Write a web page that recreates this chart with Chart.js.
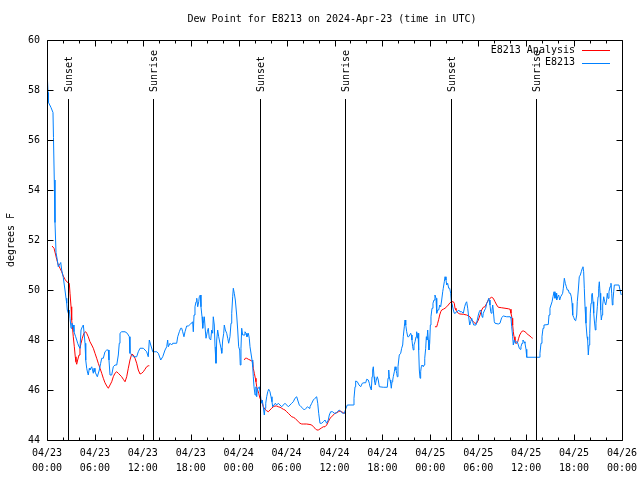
<!DOCTYPE html>
<html><head><meta charset="utf-8">
<script src="https://cdn.jsdelivr.net/npm/chart.js@4.4.1/dist/chart.umd.min.js"></script>
<style>html,body{margin:0;padding:0;background:#fff}canvas{display:block}</style>
</head><body>
<canvas id="c" width="640" height="480"></canvas>
<script>
const chartTitle = "Dew Point for E8213 on 2024-Apr-23 (time in UTC)";
const yAxisTitle = "degrees F";
const xTickLabels = ["04/23 00:00","04/23 06:00","04/23 12:00","04/23 18:00","04/24 00:00","04/24 06:00","04/24 12:00","04/24 18:00","04/25 00:00","04/25 06:00","04/25 12:00","04/25 18:00","04/26 00:00"];
const seriesNames = ["E8213 Analysis","E8213"];
const sunHours = [2.67,13.31,26.71,37.35,50.63,61.27];
const sunLabels = ["Sunset","Sunrise","Sunset","Sunrise","Sunset","Sunrise"];

// E8213 observations: hours since 04/23 00:00 UTC and dew point (F)
const obsHours = [0.06,0.13,0.19,0.50,0.75,0.81,0.91,1.00,1.13,1.29,
1.41,1.54,1.72,1.84,2.04,2.25,2.38,2.47,2.54,2.67,
2.79,2.88,3.01,3.13,3.22,3.29,3.38,3.59,3.72,3.84,
4.01,4.13,4.26,4.42,4.55,4.67,4.76,4.85,4.97,5.10,
5.17,5.30,5.38,5.60,5.80,5.89,6.01,6.30,6.55,6.72,
6.85,7.05,7.26,7.48,7.68,7.76,7.89,8.10,8.30,8.51,
8.73,8.93,9.05,9.14,9.35,9.77,10.05,10.31,10.39,10.61,
10.81,11.23,11.43,11.65,12.06,12.27,12.48,12.68,12.81,12.99,
13.24,13.74,13.94,14.24,14.49,14.78,14.99,15.11,15.19,15.40,
15.61,15.74,16.24,16.37,16.57,16.74,16.87,16.99,17.15,17.28,
17.49,17.69,17.99,18.24,18.32,18.41,18.53,18.66,18.75,18.87,
19.00,19.07,19.20,19.28,19.41,19.50,19.57,19.70,19.82,19.91,
20.07,20.20,20.32,20.50,20.62,20.75,20.82,20.95,21.04,21.16,
21.25,21.37,21.50,21.66,21.79,21.88,22.00,22.13,22.20,22.33,
22.50,22.63,22.75,22.91,23.04,23.13,23.25,23.33,23.45,23.58,
23.75,23.88,24.00,
24.13,24.20,24.29,24.38,24.50,24.67,24.79,24.92,25.04,25.21,
25.33,25.42,25.54,25.67,25.76,25.83,25.92,26.05,26.17,26.26,
26.33,26.46,26.58,26.71,26.83,26.96,27.08,27.21,27.30,27.39,
27.51,27.64,27.76,27.92,28.05,28.17,28.26,28.42,28.59,28.76,
28.96,29.18,29.39,29.59,29.80,30.01,30.22,30.43,30.64,30.84,
31.05,31.27,31.39,31.59,31.81,32.02,32.22,32.43,32.64,32.81,
32.93,33.15,33.35,33.56,33.77,33.90,34.02,34.18,34.40,34.60,
34.81,35.02,35.22,35.35,35.52,35.77,35.97,36.19,36.35,36.60,
36.81,37.03,37.23,37.44,37.60,38.35,38.44,38.57,38.65,38.86,
39.07,39.28,39.48,39.69,39.91,40.03,40.23,40.36,40.45,40.53,
40.61,40.70,40.78,40.86,40.95,41.03,41.11,41.23,41.36,41.48,
41.61,42.11,42.61,42.70,42.79,42.86,42.95,43.04,43.11,43.20,
43.29,43.36,43.49,43.58,43.70,43.79,43.86,43.95,44.04,44.11,
44.29,44.41,44.54,44.61,44.74,44.83,44.92,45.04,45.17,45.29,
45.42,45.54,45.62,45.70,45.79,45.87,45.95,46.08,46.21,46.29,
46.37,46.46,46.54,46.62,46.71,46.79,46.87,46.96,47.12,47.21,
47.30,47.42,47.50,47.58,47.67,47.75,47.83,47.92,48.00,48.08,
48.21,48.33,48.46,48.58,48.71,48.80,48.92,49.05,49.17,49.30,
49.42,49.55,49.62,49.75,49.84,49.96,50.05,50.17,50.30,50.42,
50.55,50.63,50.75,50.88,51.00,51.13,51.25,51.38,51.55,51.71,
51.93,52.13,52.30,52.43,52.55,52.68,52.80,52.93,53.05,53.18,
53.30,53.43,53.72,53.88,54.01,54.13,54.26,54.38,54.47,54.56,
54.63,54.81,54.93,55.06,55.18,55.31,55.38,55.47,55.56,55.63,
55.72,55.81,55.88,56.01,56.10,56.51,56.72,56.94,57.14,57.56,
57.98,58.10,58.19,58.31,58.39,58.51,58.64,58.76,58.89,59.02,
59.14,59.23,59.35,59.48,59.60,59.73,59.85,59.98,60.07,61.64,
61.73,61.86,61.98,62.11,62.23,62.77,62.86,62.98,63.11,63.24,
63.36,63.49,63.61,63.74,63.82,63.95,64.07,64.20,64.32,64.45,
64.57,64.65,64.78,64.90,65.03,65.15,65.28,65.40,65.53,65.65,
65.74,65.83,65.95,66.08,66.20,66.33,66.40,66.53,66.65,66.78,
66.90,67.03,67.11,67.20,67.28,67.37,67.49,67.62,67.70,67.78,
67.87,67.96,68.03,68.12,68.21,68.28,68.37,68.46,68.53,68.66,
68.74,68.83,68.91,69.00,69.08,69.16,69.25,69.33,69.41,69.50,
69.58,69.71,69.83,69.96,70.08,70.16,70.25,70.37,70.50,70.62,
70.71,70.79,70.87,70.96,71.04,71.62,71.75,71.91];
const obsDew = [58.4,57.9,57.5,57.3,57.1,56.1,54.4,52.7,51.5,51.2,
50.93,51.0,51.1,50.8,50.5,50.0,49.67,49.47,49.2,49.07,
49.2,48.87,48.47,48.67,48.53,48.6,48.33,48.13,48.0,47.87,
47.73,47.67,48.4,48.53,48.6,48.2,47.87,47.2,46.87,46.67,
46.6,46.87,46.8,46.93,46.67,46.87,46.73,46.53,46.8,47.07,
47.27,47.27,47.53,47.6,47.6,47.2,46.6,46.6,46.93,47.0,
47.0,47.4,47.87,48.27,48.33,48.33,48.27,48.13,47.47,47.4,
47.33,47.33,47.53,47.67,47.67,47.6,47.53,47.33,48.0,47.8,
47.53,47.53,47.47,47.2,47.33,47.6,47.73,48.0,47.73,47.87,
47.8,47.87,47.87,48.13,48.33,48.47,48.47,48.33,48.13,48.33,
48.56,48.56,48.64,48.73,48.33,49.0,49.33,49.53,49.67,49.33,
49.53,49.73,49.8,49.33,48.93,48.47,48.67,48.93,48.4,48.07,
48.33,48.47,48.07,48.0,48.4,48.27,48.93,48.6,47.73,47.07,
48.0,48.4,48.13,47.87,47.67,47.47,48.0,48.27,48.6,48.4,
48.27,48.07,47.87,48.13,48.67,49.07,49.73,50.07,49.87,49.6,
49.0,48.4,47.73,
47.6,47.0,47.67,48.47,48.2,48.2,48.33,48.27,48.13,48.27,
48.07,47.73,47.73,47.2,46.93,46.53,46.13,45.8,46.13,45.73,
46.0,46.07,46.13,45.87,45.47,45.6,45.33,45.0,45.27,45.47,
45.73,45.93,46.03,45.93,45.73,45.53,45.33,45.4,45.47,45.4,
45.47,45.4,45.33,45.4,45.47,45.4,45.33,45.4,45.47,45.53,
45.67,45.73,45.6,45.4,45.33,45.27,45.2,45.27,45.33,45.27,
45.33,45.47,45.6,45.67,45.73,45.47,45.07,44.67,44.67,44.73,
44.8,44.67,44.8,45.0,45.13,45.13,45.07,45.07,45.13,45.2,
45.13,45.07,45.07,45.27,45.4,45.4,45.67,46.13,46.36,46.33,
46.2,46.13,46.27,46.29,46.29,46.43,46.4,46.27,46.13,46.07,
46.0,46.53,46.8,46.93,46.53,46.33,46.2,46.4,46.53,46.4,
46.13,46.11,46.11,46.47,46.8,46.53,46.4,46.27,46.07,46.33,
46.4,46.53,46.73,46.93,46.8,46.67,46.53,46.93,47.2,47.4,
47.47,47.67,47.8,48.13,48.53,48.8,48.6,48.33,48.13,48.13,
48.2,48.27,48.2,48.0,47.73,47.6,47.8,47.93,48.13,48.33,
48.07,48.27,47.6,46.8,46.47,46.73,46.93,47.0,46.93,47.0,
47.27,47.67,48.13,48.0,48.4,48.0,47.6,47.87,48.6,48.93,
49.27,49.47,49.6,49.8,49.67,49.07,49.2,49.2,49.4,49.33,
49.6,49.93,50.07,50.33,50.53,50.4,50.2,50.27,50.07,50.07,
49.87,49.53,49.4,49.2,49.07,49.07,49.13,49.13,49.2,49.13,
49.13,49.07,49.33,49.47,49.53,49.27,48.93,48.6,48.73,48.87,
48.73,48.6,48.6,48.8,49.0,49.13,49.2,49.13,48.93,48.91,
49.07,49.2,49.27,49.47,49.53,49.67,49.6,49.4,49.13,49.07,
49.2,49.4,49.2,48.73,48.67,48.64,48.67,48.9,48.96,48.93,
48.93,48.87,48.53,48.13,47.8,48.0,47.87,47.93,47.93,47.8,
47.67,47.63,47.73,47.87,48.0,47.93,47.87,47.63,47.31,47.31,
47.47,47.87,48.13,48.47,48.6,48.62,49.0,49.27,49.4,49.53,
49.73,49.93,49.67,49.87,49.6,49.73,49.8,49.6,49.73,49.8,
49.87,50.07,50.47,50.27,50.13,50.0,50.0,49.87,49.87,49.73,
49.47,49.0,48.91,48.8,48.77,49.0,49.53,50.0,50.53,50.6,
50.73,50.87,50.93,50.73,50.07,49.33,48.67,48.13,48.0,47.4,
47.8,48.27,49.07,49.47,49.8,49.87,49.53,49.07,48.8,48.4,
48.67,49.0,49.33,49.73,50.07,50.33,49.87,49.2,48.8,49.0,
49.4,49.73,49.53,49.4,49.6,49.87,49.67,49.93,50.13,50.27,
49.87,49.4,49.6,49.93,50.2,50.2,50.0,49.8];

// E8213 Analysis (gaps are null)
const anaHours = [0.63,0.88,1.09,1.21,1.42,1.63,1.84,2.04,2.25,2.47,
2.67,2.79,2.88,3.01,3.09,3.22,3.29,3.42,3.54,3.63,
3.72,3.84,4.01,4.13,4.26,4.42,4.55,4.67,4.85,4.97,
5.17,5.38,5.60,5.80,6.01,6.22,6.42,6.64,6.85,7.05,
7.26,7.48,7.68,7.89,8.10,8.30,8.51,8.73,8.93,9.14,
9.35,9.55,9.77,9.98,10.18,10.39,10.61,10.81,11.02,11.23,
11.43,11.65,11.86,12.06,12.27,12.48,12.68,12.81,
18.00,
24.71,24.83,25.00,25.21,25.42,25.63,25.76,25.83,25.96,26.09,
26.17,26.26,26.38,26.51,26.67,26.80,26.96,27.08,27.30,27.51,
27.71,27.92,28.13,28.34,28.55,28.76,28.96,29.18,29.39,29.59,
29.80,30.01,30.22,30.43,30.64,30.84,31.05,31.27,31.47,31.68,
31.89,32.09,32.51,32.93,33.15,33.35,33.56,33.77,33.97,34.18,
34.40,34.60,34.81,35.02,35.22,35.44,35.65,35.85,36.06,36.27,
36.48,36.69,36.90,37.10,37.32,
43.00,
48.58,48.80,48.92,49.05,49.17,49.30,49.42,49.62,49.84,50.05,
50.25,50.46,50.67,50.88,51.00,51.09,51.21,51.34,51.50,51.71,
52.13,52.55,52.75,52.97,53.18,53.38,53.59,53.80,54.01,54.22,
54.43,54.63,54.84,55.06,55.26,55.47,55.68,55.88,56.10,56.31,
56.51,56.94,57.35,57.76,57.98,58.10,58.23,58.31,58.39,58.48,
58.60,58.69,58.81,58.94,59.06,59.19,59.35,59.51,59.69,59.85,
60.07,60.27,60.48,60.69,60.82];
const anaDew = [51.76,51.67,51.4,51.23,51.0,50.87,50.73,50.56,50.43,50.33,
50.29,50.27,49.87,49.33,48.8,48.4,48.13,47.73,47.33,47.13,
47.03,47.2,47.4,47.67,47.87,48.07,48.2,48.29,48.33,48.27,
48.13,47.93,47.8,47.67,47.47,47.27,47.07,46.87,46.67,46.47,
46.29,46.16,46.07,46.2,46.33,46.53,46.67,46.73,46.67,46.6,
46.53,46.43,46.33,46.53,46.87,47.2,47.44,47.4,47.27,47.07,
46.8,46.64,46.67,46.73,46.83,46.93,46.97,46.97,
null,
47.2,47.27,47.27,47.23,47.2,47.16,47.13,46.87,46.67,46.47,
46.33,46.13,46.0,45.87,45.67,45.6,45.47,45.33,45.23,45.17,
45.13,45.2,45.27,45.33,45.36,45.36,45.33,45.31,45.27,45.23,
45.2,45.13,45.07,45.0,44.93,44.91,44.87,44.8,44.73,44.67,
44.64,44.64,44.64,44.62,44.6,44.53,44.47,44.4,44.4,44.44,
44.49,44.53,44.53,44.6,44.73,44.87,44.93,45.0,45.07,45.09,
45.13,45.16,45.13,45.09,45.07,
null,
48.53,48.53,48.67,48.83,49.0,49.13,49.2,49.23,49.27,49.33,
49.4,49.49,49.53,49.53,49.47,49.27,49.2,49.13,49.07,49.04,
49.03,49.0,48.97,48.93,48.8,48.73,48.67,48.67,48.8,49.0,
49.2,49.31,49.33,49.47,49.6,49.67,49.71,49.67,49.53,49.4,
49.31,49.29,49.27,49.25,49.23,49.07,48.87,48.6,48.33,48.13,
47.97,47.87,47.87,47.93,48.07,48.2,48.29,48.36,48.36,48.33,
48.27,48.2,48.16,48.09,48.07];

const FONT = "DejaVu Sans Mono";
const RED = "#ff0000", BLUE = "#0080ff";

const decor = {
  id: "decor",
  afterDatasetsDraw(chart) {
    const {ctx, chartArea: a, scales: {x, y}} = chart;
    ctx.save();
    ctx.strokeStyle = "#000";
    ctx.fillStyle = "#000";
    ctx.lineWidth = 1;
    ctx.font = "10px '" + FONT + "'";
    // sunrise / sunset
    sunHours.forEach((h, i) => {
      const px = Math.round(x.getPixelForValue(h)) + 0.5;
      ctx.beginPath();
      ctx.moveTo(px, a.top + 59);
      ctx.lineTo(px, a.bottom);
      ctx.stroke();
      ctx.save();
      ctx.translate(px + 1, a.top + 52);
      ctx.rotate(-Math.PI / 2);
      ctx.textAlign = "left";
      ctx.textBaseline = "middle";
      ctx.fillText(sunLabels[i], 0, 0);
      ctx.restore();
    });
    // frame
    const L = Math.round(a.left) + 0.5, R = Math.round(a.right) + 0.5;
    const T = Math.round(a.top) + 0.5, B = Math.round(a.bottom) + 0.5;
    ctx.beginPath();
    ctx.rect(L, T, R - L, B - T);
    ctx.stroke();
    // x ticks
    ctx.beginPath();
    for (let h = 0; h <= 72; h += 2) {
      const px = Math.round(x.getPixelForValue(h)) + 0.5;
      const len = (h % 6 === 0) ? 6 : 3;
      ctx.moveTo(px, B); ctx.lineTo(px, B - len);
      ctx.moveTo(px, T); ctx.lineTo(px, T + len);
    }
    // y ticks
    for (let v = 44; v <= 60; v += 2) {
      const py = Math.round(y.getPixelForValue(v)) + 0.5;
      ctx.moveTo(L, py); ctx.lineTo(L + 6, py);
      ctx.moveTo(R, py); ctx.lineTo(R - 6, py);
    }
    ctx.stroke();
    // title
    ctx.textAlign = "center";
    ctx.textBaseline = "middle";
    ctx.fillText(chartTitle, 332, 19);
    // y title
    ctx.save();
    ctx.translate(11, (a.top + a.bottom) / 2);
    ctx.rotate(-Math.PI / 2);
    ctx.fillText(yAxisTitle, 0, 0);
    ctx.restore();
    // legend
    const cols = [RED, BLUE];
    seriesNames.forEach((n, i) => {
      const ly = a.top + 10 + i * 12.5;
      ctx.textAlign = "right";
      ctx.fillStyle = "#000";
      ctx.fillText(n, a.right - 47, ly);
      ctx.strokeStyle = cols[i];
      ctx.beginPath();
      ctx.moveTo(a.right - 40, Math.round(ly) + 0.5);
      ctx.lineTo(a.right - 12, Math.round(ly) + 0.5);
      ctx.stroke();
    });
    ctx.restore();
  }
};

new Chart(document.getElementById("c"), {
  type: "line",
  data: {
    datasets: [
      { label: seriesNames[0], data: anaHours.map((h, i) => ({x: h, y: anaDew[i]})),
        borderColor: RED, borderWidth: 1, pointRadius: 0, tension: 0, spanGaps: false, order: 2 },
      { label: seriesNames[1], data: obsHours.map((h, i) => ({x: h, y: obsDew[i]})),
        borderColor: BLUE, borderWidth: 1, pointRadius: 0, tension: 0, order: 1 }
    ]
  },
  options: {
    responsive: false, animation: false, devicePixelRatio: 1,
    layout: { padding: { left: 0, right: 18, top: 40, bottom: 0 } },
    plugins: { legend: { display: false }, title: { display: false }, tooltip: { enabled: false } },
    scales: {
      x: {
        type: "linear", min: 0, max: 72,
        afterFit(s) { s.height = 40; s.paddingLeft = 0; s.paddingRight = 0; },
        ticks: { stepSize: 6, autoSkip: false, maxRotation: 0, padding: 6, color: "#000",
          font: { family: FONT, size: 10, lineHeight: 1.5 },
          callback: (v) => { const l = xTickLabels[Math.round(v / 6)]; return l ? l.split(" ") : ""; } },
        grid: { display: false, drawTicks: false }, border: { display: false }
      },
      y: {
        min: 44, max: 60,
        afterFit(s) { s.width = 47; s.paddingTop = 0; s.paddingBottom = 0; },
        ticks: { stepSize: 2, padding: 7, color: "#000", font: { family: FONT, size: 10 } },
        grid: { display: false, drawTicks: false }, border: { display: false }
      }
    }
  },
  plugins: [decor]
});
</script>
</body></html>
